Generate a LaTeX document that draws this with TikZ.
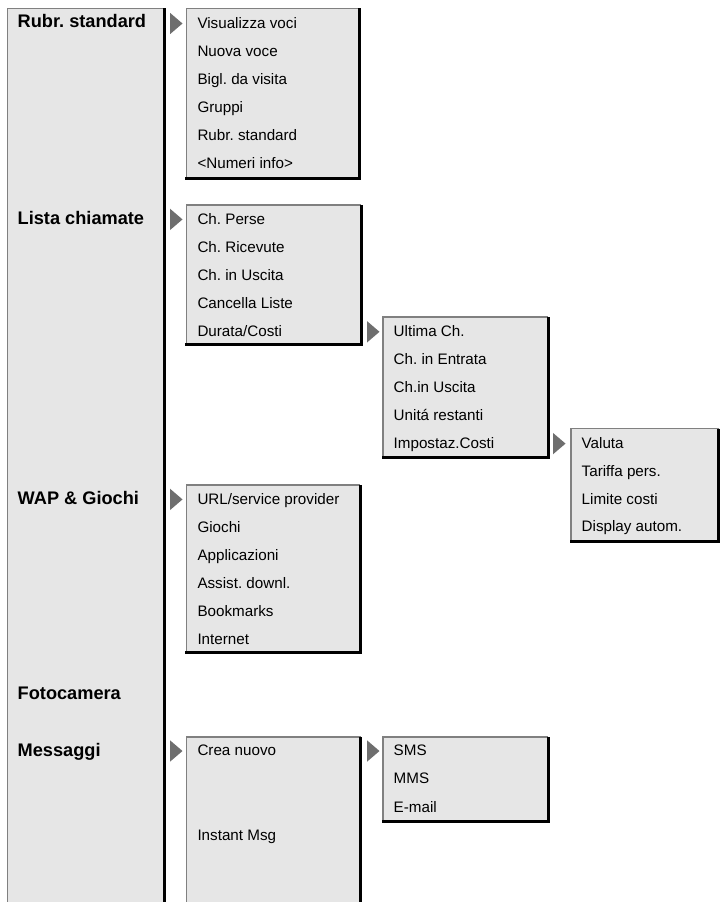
\documentclass[tikz,border=0pt]{standalone}
\usepackage{fontspec}
\setmainfont{Liberation Sans}
\frenchspacing
\definecolor{boxfill}{HTML}{E6E6E6}
\definecolor{edgegray}{HTML}{808080}
\definecolor{arrowgray}{HTML}{6E6E6E}
\tikzset{
  item/.style={anchor=base west, inner sep=0pt, font=\fontsize{15.2}{18}\selectfont},
  head/.style={anchor=base west, inner sep=0pt, font=\fontsize{18.2}{21}\selectfont\bfseries},
  light/.style={draw=edgegray, line width=1.3pt},
  heavy/.style={draw=black, line width=3pt},
}
% closed panel: left, top, right(black centre), bottom(black centre)
\newcommand\menupanel[4]{%
  \fill[boxfill] (#1,#2) rectangle (#3,#4);
  \draw[light] (#1,#4) -- (#1,#2) -- (#3,#2);
  \draw[heavy] (#3,#2) -- (#3,#4) -- (#1-1.5,#4);
}
% panel open at the bottom
\newcommand\openpanel[4]{%
  \fill[boxfill] (#1,#2) rectangle (#3,#4);
  \draw[light] (#1,#4) -- (#1,#2) -- (#3,#2);
  \draw[heavy] (#3,#2) -- (#3,#4);
}
% pointer triangle: left x, centre y
\newcommand\pointer[2]{%
  \fill[arrowgray] (#1,#2-10.7) -- (#1+12.5,#2) -- (#1,#2+10.7) -- cycle;
}
\begin{document}
\begin{tikzpicture}[x=1pt,y=-1pt]
\useasboundingbox (0,0) rectangle (720,902);

% main column
\openpanel{7.5}{8.3}{164}{902}
\node[head] (mRubr) at (17.5,27.6) {Rubr. standard};
\node[head] (mLista) at (17.5,224.3) {Lista chiamate};
\node[head] (mWap) at (17.5,504.3) {WAP \& Giochi};
\node[head] (mFoto) at (17.5,699.3) {Fotocamera};
\node[head] (mMsg) at (17.5,756) {Messaggi};

% Rubrica
\pointer{170}{23.5}
\menupanel{186.5}{8.3}{359.5}{178}
\node[item] (r1) at (197.3,28.3) {Visualizza voci};
\node[item] (r2) at (197.3,56.4) {Nuova voce};
\node[item] (r3) at (197.3,84.4) {Bigl. da visita};
\node[item] (r4) at (197.3,112.4) {Gruppi};
\node[item] (r5) at (197.3,140.4) {Rubr. standard};
\node[item] (r6) at (197.3,168.2) {<Numeri info>};

% Lista chiamate
\pointer{170}{219.4}
\menupanel{186.5}{205}{361}{344.5}
\node[item] (l1) at (197.3,224.3) {Ch. Perse};
\node[item] (l2) at (197.3,252.3) {Ch. Ricevute};
\node[item] (l3) at (197.3,280.3) {Ch. in Uscita};
\node[item] (l4) at (197.3,308.3) {Cancella Liste};
\node[item] (l5) at (197.3,336.3) {Durata/Costi};

% Durata/Costi
\pointer{367}{331.8}
\menupanel{383}{317}{548}{457.5}
\node[item] (d1) at (393.5,336.5) {Ultima Ch.};
\node[item] (d2) at (393.5,364.5) {Ch. in Entrata};
\node[item] (d3) at (393.5,392.5) {Ch.in Uscita};
\node[item] (d4) at (393.5,420.5) {Unitá restanti};
\node[item] (d5) at (393.5,448.4) {Impostaz.Costi};

% Impostaz.Costi
\pointer{553}{443.6}
\menupanel{571}{428.5}{718.5}{541.7}
\node[item] (c1) at (581.5,448.4) {Valuta};
\node[item] (c2) at (581.5,476.2) {Tariffa pers.};
\node[item] (c3) at (581.5,504.1) {Limite costi};
\node[item] (c4) at (581.5,531.9) {Display autom.};

% WAP & Giochi
\pointer{170}{499.4}
\menupanel{186.5}{485}{360}{652.5}
\node[item] (w1) at (197.3,504.3) {URL/service provider};
\node[item] (w2) at (197.3,532.3) {Giochi};
\node[item] (w3) at (197.3,560.3) {Applicazioni};
\node[item] (w4) at (197.3,588.3) {Assist. downl.};
\node[item] (w5) at (197.3,616.3) {Bookmarks};
\node[item] (w6) at (197.3,644.2) {Internet};

% Messaggi
\pointer{170}{751}
\openpanel{186.5}{737}{360.7}{902}
\node[item] (s1) at (197.3,755.7) {Crea nuovo};
\node[item] (s2) at (197.3,840.2) {Instant Msg};

% Crea nuovo
\pointer{367}{751}
\menupanel{383}{737}{548.3}{821}
\node[item] (n1) at (393.5,755.7) {SMS};
\node[item] (n2) at (393.5,783.9) {MMS};
\node[item] (n3) at (393.5,812.3) {E-mail};
\end{tikzpicture}
\end{document}
